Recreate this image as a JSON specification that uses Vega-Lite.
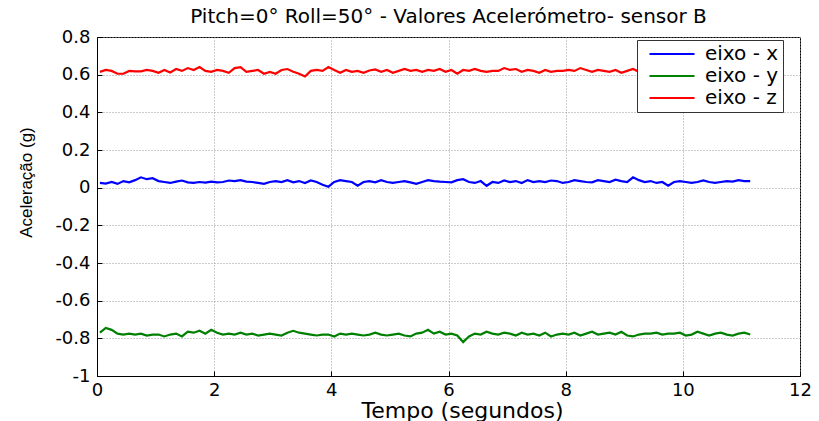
{
"$schema": "https://vega.github.io/schema/vega-lite/v6.json",
"width": 703, "height": 339,
"autosize": {"type": "none"},
"padding": {"left": 97, "top": 37, "right": 19, "bottom": 45},
"background": "white",
"title": {"text": "Pitch=0° Roll=50° - Valores Acelerómetro- sensor B", "font": "DejaVu Sans", "fontSize": 20, "fontWeight": "normal", "anchor": "middle", "offset": 1, "color": "black"},
"data": {"values": [
{"t":0.05,"x":0.025,"y":-0.77,"z":0.615},
{"t":0.15,"x":0.022,"y":-0.745,"z":0.625},
{"t":0.25,"x":0.03,"y":-0.755,"z":0.62},
{"t":0.35,"x":0.02,"y":-0.775,"z":0.605},
{"t":0.45,"x":0.035,"y":-0.78,"z":0.605},
{"t":0.55,"x":0.028,"y":-0.775,"z":0.62},
{"t":0.65,"x":0.04,"y":-0.78,"z":0.618},
{"t":0.75,"x":0.055,"y":-0.775,"z":0.618},
{"t":0.85,"x":0.045,"y":-0.785,"z":0.625},
{"t":0.95,"x":0.05,"y":-0.78,"z":0.62},
{"t":1.05,"x":0.035,"y":-0.78,"z":0.61},
{"t":1.15,"x":0.03,"y":-0.79,"z":0.625},
{"t":1.25,"x":0.025,"y":-0.78,"z":0.612},
{"t":1.35,"x":0.032,"y":-0.775,"z":0.63},
{"t":1.45,"x":0.038,"y":-0.79,"z":0.62},
{"t":1.55,"x":0.028,"y":-0.765,"z":0.635},
{"t":1.65,"x":0.025,"y":-0.77,"z":0.625},
{"t":1.75,"x":0.03,"y":-0.76,"z":0.64},
{"t":1.85,"x":0.027,"y":-0.775,"z":0.62},
{"t":1.95,"x":0.032,"y":-0.755,"z":0.615},
{"t":2.05,"x":0.028,"y":-0.77,"z":0.625},
{"t":2.15,"x":0.03,"y":-0.78,"z":0.62},
{"t":2.25,"x":0.038,"y":-0.775,"z":0.61},
{"t":2.35,"x":0.035,"y":-0.78,"z":0.635},
{"t":2.45,"x":0.04,"y":-0.77,"z":0.64},
{"t":2.55,"x":0.032,"y":-0.78,"z":0.615},
{"t":2.65,"x":0.03,"y":-0.775,"z":0.62},
{"t":2.75,"x":0.025,"y":-0.785,"z":0.625},
{"t":2.85,"x":0.02,"y":-0.78,"z":0.605},
{"t":2.95,"x":0.03,"y":-0.775,"z":0.615},
{"t":3.05,"x":0.035,"y":-0.78,"z":0.605},
{"t":3.15,"x":0.03,"y":-0.785,"z":0.625},
{"t":3.25,"x":0.04,"y":-0.77,"z":0.63},
{"t":3.35,"x":0.028,"y":-0.76,"z":0.615},
{"t":3.45,"x":0.035,"y":-0.77,"z":0.605},
{"t":3.55,"x":0.025,"y":-0.775,"z":0.59},
{"t":3.65,"x":0.038,"y":-0.78,"z":0.62},
{"t":3.75,"x":0.03,"y":-0.785,"z":0.625},
{"t":3.85,"x":0.015,"y":-0.78,"z":0.62},
{"t":3.95,"x":0.005,"y":-0.78,"z":0.64},
{"t":4.05,"x":0.03,"y":-0.79,"z":0.625},
{"t":4.15,"x":0.04,"y":-0.775,"z":0.61},
{"t":4.25,"x":0.035,"y":-0.78,"z":0.625},
{"t":4.35,"x":0.03,"y":-0.775,"z":0.615},
{"t":4.45,"x":0.01,"y":-0.78,"z":0.62},
{"t":4.55,"x":0.03,"y":-0.785,"z":0.61},
{"t":4.65,"x":0.035,"y":-0.78,"z":0.622},
{"t":4.75,"x":0.028,"y":-0.77,"z":0.628},
{"t":4.85,"x":0.04,"y":-0.78,"z":0.615},
{"t":4.95,"x":0.03,"y":-0.785,"z":0.625},
{"t":5.05,"x":0.025,"y":-0.78,"z":0.61},
{"t":5.15,"x":0.03,"y":-0.775,"z":0.62},
{"t":5.25,"x":0.035,"y":-0.785,"z":0.63},
{"t":5.35,"x":0.028,"y":-0.79,"z":0.62},
{"t":5.45,"x":0.02,"y":-0.775,"z":0.625},
{"t":5.55,"x":0.03,"y":-0.77,"z":0.615},
{"t":5.65,"x":0.04,"y":-0.755,"z":0.625},
{"t":5.75,"x":0.035,"y":-0.775,"z":0.62},
{"t":5.85,"x":0.032,"y":-0.765,"z":0.63},
{"t":5.95,"x":0.03,"y":-0.78,"z":0.615},
{"t":6.05,"x":0.028,"y":-0.775,"z":0.625},
{"t":6.15,"x":0.04,"y":-0.785,"z":0.605},
{"t":6.25,"x":0.045,"y":-0.82,"z":0.625},
{"t":6.35,"x":0.03,"y":-0.79,"z":0.62},
{"t":6.45,"x":0.025,"y":-0.775,"z":0.63},
{"t":6.55,"x":0.035,"y":-0.78,"z":0.62},
{"t":6.65,"x":0.01,"y":-0.765,"z":0.615},
{"t":6.75,"x":0.03,"y":-0.775,"z":0.62},
{"t":6.85,"x":0.025,"y":-0.78,"z":0.62},
{"t":6.95,"x":0.038,"y":-0.77,"z":0.635},
{"t":7.05,"x":0.03,"y":-0.775,"z":0.625},
{"t":7.15,"x":0.035,"y":-0.785,"z":0.63},
{"t":7.25,"x":0.025,"y":-0.77,"z":0.615},
{"t":7.35,"x":0.04,"y":-0.78,"z":0.625},
{"t":7.45,"x":0.03,"y":-0.775,"z":0.62},
{"t":7.55,"x":0.035,"y":-0.785,"z":0.61},
{"t":7.65,"x":0.03,"y":-0.77,"z":0.625},
{"t":7.75,"x":0.038,"y":-0.79,"z":0.615},
{"t":7.85,"x":0.035,"y":-0.78,"z":0.62},
{"t":7.95,"x":0.025,"y":-0.775,"z":0.62},
{"t":8.05,"x":0.03,"y":-0.78,"z":0.625},
{"t":8.15,"x":0.04,"y":-0.77,"z":0.62},
{"t":8.25,"x":0.035,"y":-0.785,"z":0.635},
{"t":8.35,"x":0.03,"y":-0.775,"z":0.625},
{"t":8.45,"x":0.028,"y":-0.765,"z":0.615},
{"t":8.55,"x":0.04,"y":-0.78,"z":0.625},
{"t":8.65,"x":0.035,"y":-0.775,"z":0.62},
{"t":8.75,"x":0.03,"y":-0.77,"z":0.615},
{"t":8.85,"x":0.042,"y":-0.78,"z":0.625},
{"t":8.95,"x":0.035,"y":-0.765,"z":0.61},
{"t":9.05,"x":0.03,"y":-0.785,"z":0.62},
{"t":9.15,"x":0.055,"y":-0.79,"z":0.63},
{"t":9.25,"x":0.04,"y":-0.78,"z":0.615},
{"t":9.35,"x":0.03,"y":-0.775,"z":0.62},
{"t":9.45,"x":0.035,"y":-0.775,"z":0.62},
{"t":9.55,"x":0.025,"y":-0.77,"z":0.625},
{"t":9.65,"x":0.03,"y":-0.78,"z":0.61},
{"t":9.75,"x":0.01,"y":-0.775,"z":0.62},
{"t":9.85,"x":0.03,"y":-0.775,"z":0.62},
{"t":9.95,"x":0.035,"y":-0.77,"z":0.625},
{"t":10.05,"x":0.03,"y":-0.785,"z":0.615},
{"t":10.15,"x":0.025,"y":-0.78,"z":0.62},
{"t":10.25,"x":0.03,"y":-0.765,"z":0.625},
{"t":10.35,"x":0.038,"y":-0.775,"z":0.62},
{"t":10.45,"x":0.03,"y":-0.785,"z":0.612},
{"t":10.55,"x":0.025,"y":-0.775,"z":0.625},
{"t":10.65,"x":0.03,"y":-0.77,"z":0.62},
{"t":10.75,"x":0.035,"y":-0.78,"z":0.628},
{"t":10.85,"x":0.032,"y":-0.785,"z":0.62},
{"t":10.95,"x":0.04,"y":-0.775,"z":0.615},
{"t":11.05,"x":0.035,"y":-0.77,"z":0.62},
{"t":11.15,"x":0.035,"y":-0.78,"z":0.62}
]},
"transform": [{"fold": ["x", "y", "z"], "as": ["eixo", "valor"]}],
"mark": {"type": "line", "strokeWidth": 2.2},
"encoding": {
  "x": {"field": "t", "type": "quantitative",
        "scale": {"domain": [0, 12], "nice": false, "zero": false},
        "axis": {"title": "Tempo (segundos)", "values": [0, 2, 4, 6, 8, 10, 12], "labelPadding": 10, "titleX": 365, "titleY": 41, "titleBaseline": "alphabetic", "titleAlign": "center", "titleFontSize": 22}},
  "y": {"field": "valor", "type": "quantitative",
        "scale": {"domain": [-1, 0.8], "nice": false, "zero": false},
        "axis": {"title": "Aceleração (g)", "values": [-1, -0.8, -0.6, -0.4, -0.2, 0, 0.2, 0.4, 0.6, 0.8], "labelPadding": 12, "titleX": -71, "titleY": 145, "titleAngle": -90, "titleBaseline": "middle", "titleAlign": "center", "titleFont": "Liberation Sans", "titleFontSize": 17}},
  "color": {"field": "eixo", "type": "nominal",
        "scale": {"domain": ["x", "y", "z"], "range": ["#0000ff", "#008000", "#ff0000"]},
        "legend": {"orient": "none", "legendX": 540, "legendY": 3, "title": null, "fillColor": "white", "strokeColor": "#333333", "padding": 4, "symbolType": "M-3,0H3", "symbolSize": 225, "symbolStrokeWidth": 2.2, "symbolOffset": 21, "labelFont": "DejaVu Sans", "labelFontSize": 20, "labelColor": "black", "labelOffset": 23, "rowPadding": 2, "labelExpr": "'eixo - ' + datum.label"}}
},
"config": {
  "view": {"stroke": "black", "strokeWidth": 1},
  "axis": {"domainColor": "black", "tickColor": "black", "tickSize": -5, "labelFont": "DejaVu Sans", "labelFontSize": 18, "labelColor": "black", "labelFlush": false, "labelOverlap": false, "labelExpr": "toString(datum.value)", "grid": true, "gridColor": "#999999", "gridDash": [1, 2], "gridWidth": 1, "titleFont": "DejaVu Sans", "titleFontWeight": "normal", "titleColor": "black"}
}
}
